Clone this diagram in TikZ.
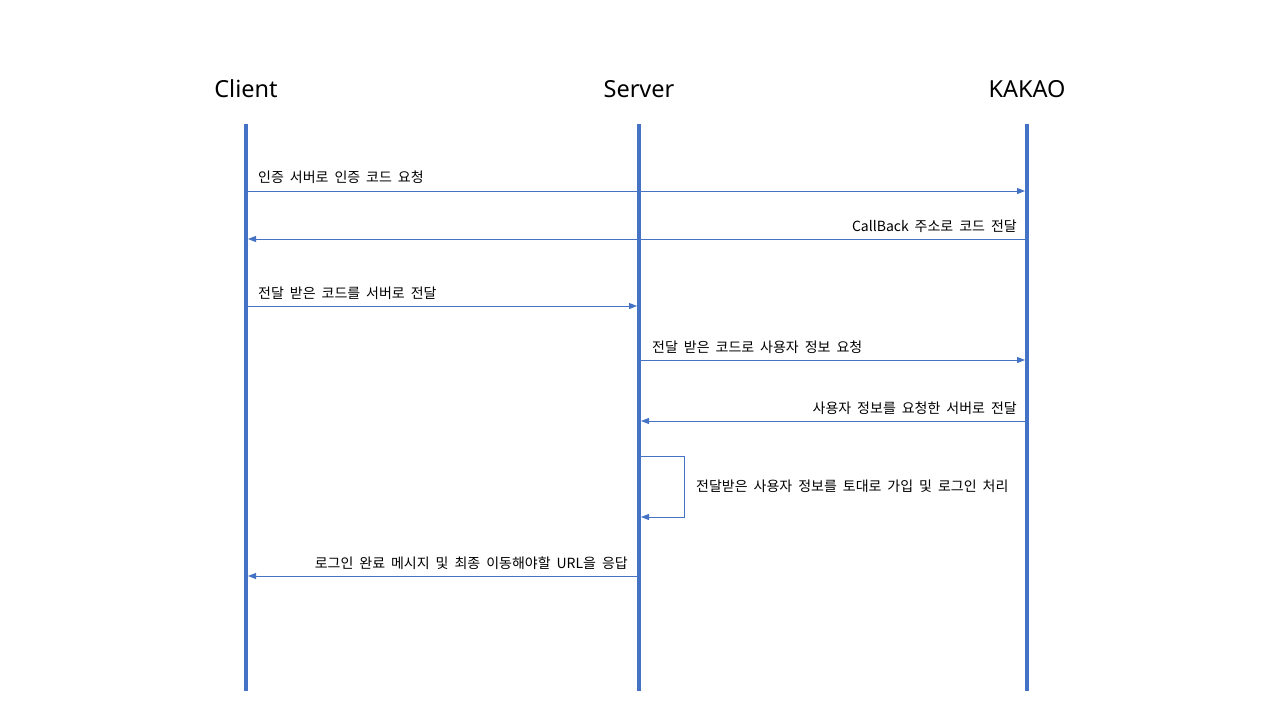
\documentclass[tikz,border=0pt]{standalone}
\usepackage{fontspec}
\setmainfont{Noto Sans}
\newfontfamily\kr[WordSpace=1.9]{Noto Sans CJK KR}
\usetikzlibrary{arrows.meta}
\definecolor{lifeblue}{HTML}{4472C4}
\begin{document}
\begin{tikzpicture}[x=1pt,y=-1pt,
  lifeline/.style={draw=lifeblue,line width=4pt},
  msg/.style={draw=lifeblue,line width=1pt,-{Triangle[length=8pt,width=6pt]},shorten >=2pt},
  head/.style={font=\fontsize{23.5}{28}\selectfont,inner sep=0pt},
  lbl/.style={font=\kr\fontsize{14}{16}\selectfont,inner sep=0pt,text=black}]
\useasboundingbox (0,0) rectangle (1280,720);
% headers
\node[head] (hc) at (246,89) {Client};
\node[head] (hs) at (639,89) {Server};
\node[head] (hk) at (1027,89) {KAKAO};
% lifelines
\coordinate (cT) at (246,124); \coordinate (cB) at (246,691);
\coordinate (sT) at (639,124); \coordinate (sB) at (639,691);
\coordinate (kT) at (1027,124); \coordinate (kB) at (1027,691);
\draw[lifeline] (cT) -- (cB);
\draw[lifeline] (sT) -- (sB);
\draw[lifeline] (kT) -- (kB);
% message end points
\coordinate (c1) at (248,191); \coordinate (k1) at (1027,191);
\coordinate (k2) at (1025,239); \coordinate (c2) at (246,239);
\coordinate (c3) at (248,306); \coordinate (s3) at (639,306);
\coordinate (s4) at (641,360); \coordinate (k4) at (1027,360);
\coordinate (k5) at (1025,421); \coordinate (s5) at (639,421);
\coordinate (s6a) at (641,456); \coordinate (l6a) at (684,456);
\coordinate (l6b) at (684,517); \coordinate (s6b) at (639,517);
\coordinate (s7) at (637,576); \coordinate (c7) at (246,576);
% messages
\draw[msg] (c1) -- (k1);
\node[lbl,anchor=west] (t1) at (258,177.5) {인증 서버로 인증 코드 요청};
\draw[msg] (k2) -- (c2);
\node[lbl,anchor=east] (t2) at (1017,226) {CallBack 주소로 코드 전달};
\draw[msg] (c3) -- (s3);
\node[lbl,anchor=west] (t3) at (258,293) {전달 받은 코드를 서버로 전달};
\draw[msg] (s4) -- (k4);
\node[lbl,anchor=west] (t4) at (652,347) {전달 받은 코드로 사용자 정보 요청};
\draw[msg] (k5) -- (s5);
\node[lbl,anchor=east] (t5) at (1017,408) {사용자 정보를 요청한 서버로 전달};
\draw[msg] (s6a) -- (l6a) -- (l6b) -- (s6b);
\node[lbl,anchor=west] (t6) at (696,486) {전달받은 사용자 정보를 토대로 가입 및 로그인 처리};
\draw[msg] (s7) -- (c7);
\node[lbl,anchor=east] (t7) at (628,563) {로그인 완료 메시지 및 최종 이동해야할 URL을 응답};
\end{tikzpicture}
\end{document}
